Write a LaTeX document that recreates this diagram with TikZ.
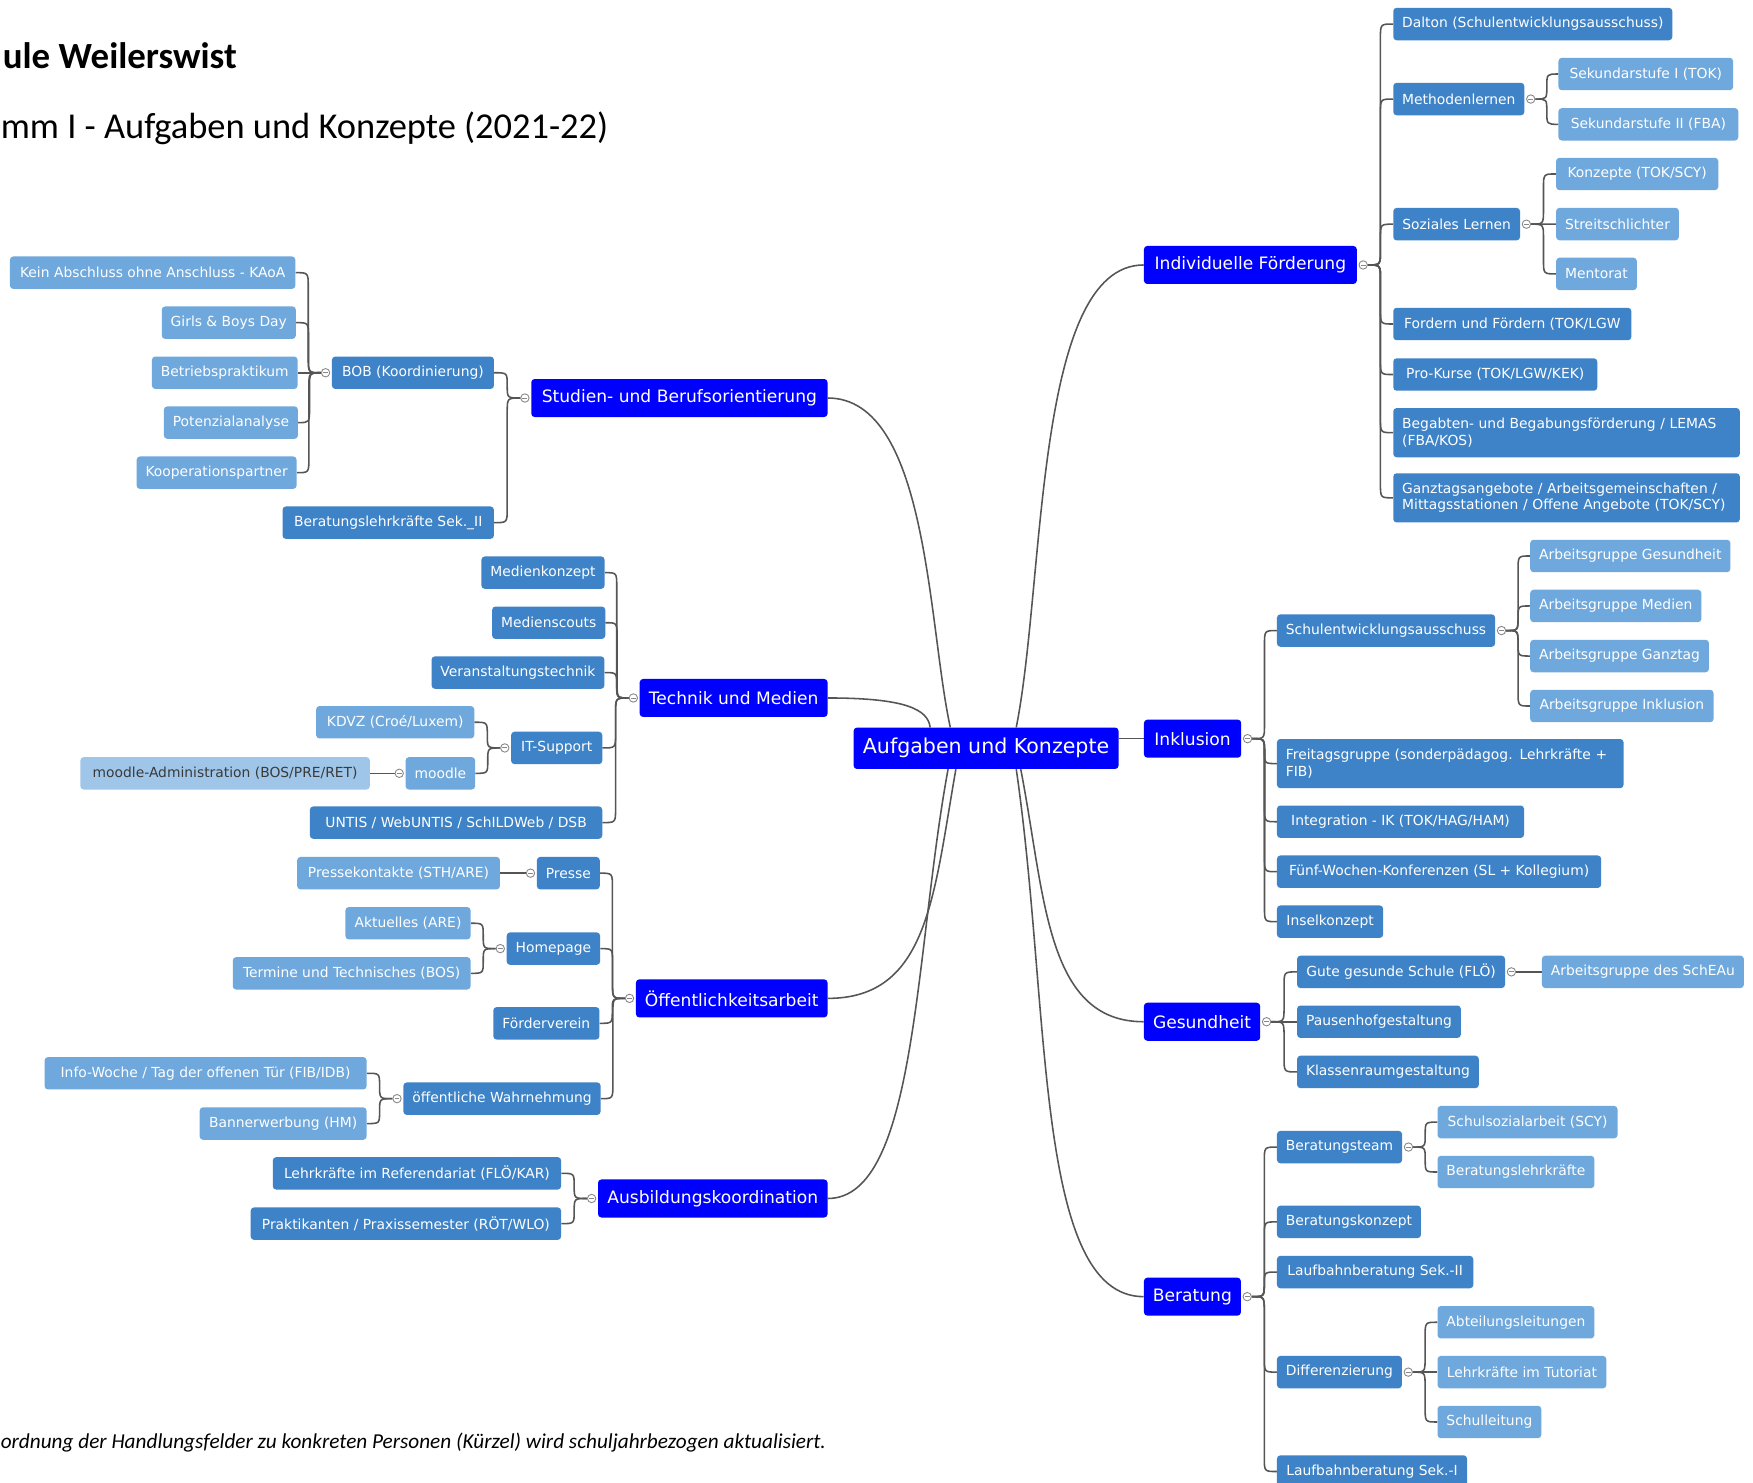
\documentclass[tikz,border=0pt]{standalone}
\usepackage{fontspec}
\setmainfont{DejaVu Sans}
\newfontfamily\titlefont{Carlito}
\usetikzlibrary{calc}

\definecolor{cone}{HTML}{0000FF}
\definecolor{ctwo}{HTML}{3E83C7}
\definecolor{cthree}{HTML}{6FA8DC}
\definecolor{cfour}{HTML}{9FC5E8}
\definecolor{cfourtext}{HTML}{3A3A3A}
\definecolor{linec}{HTML}{555555}
\definecolor{knobc}{HTML}{888888}

\pgfdeclarelayer{bg}
\pgfsetlayers{bg,main}

\tikzset{
  box/.style={rounded corners=3pt, inner xsep=8pt, inner ysep=0pt, text=white, align=left,
              font=\fontsize{12.4}{14.5}\selectfont},
  lvtwo/.style={box, fill=ctwo, minimum height=29pt},
  lvtwotall/.style={box, fill=ctwo, minimum height=44pt},
  lvthree/.style={box, fill=cthree, minimum height=29pt},
  lvfour/.style={box, fill=cfour, text=cfourtext, minimum height=29pt},
  lvone/.style={box, fill=cone, minimum height=34pt, font=\fontsize{15.3}{18}\selectfont},
  rootbox/.style={box, fill=cone, minimum height=37pt, font=\fontsize{18.4}{21}\selectfont},
  conn/.style={draw=linec, line width=1.4pt},
  knob/.style={circle, draw=knobc, fill=white, line width=0.8pt, minimum size=7.5pt, inner sep=0pt,
     path picture={\draw[knobc, line width=0.8pt]
        ([xshift=-2.2pt]path picture bounding box.center) -- ([xshift=2.2pt]path picture bounding box.center);}},
  titletext/.style={inner sep=0pt, anchor=base west}
}

% box: style, name, left, right, centre y, text
\newcommand\bx[6]{\pgfmathsetmacro\bxw{#4-#3}\node[#1, anchor=west, minimum width=\bxw pt] (#2) at (#3,#5) {#6};}
% tall box with left-aligned text block
\newcommand\bxt[6]{\pgfmathsetmacro\bxw{#4-#3-16}\node[#1, anchor=west, text width=\bxw pt] (#2) at (#3,#5) {#6};}
% connector with an S-shaped elbow between two points
\newcommand\lk[2]{\draw[conn] let \p1=(#1), \p2=(#2),
   \n3={min(13pt,abs(\y2-\y1)/2)*sign(\y2-\y1)} in
   (\p1) .. controls (0.5*\x1+0.5*\x2,\y1) .. (0.5*\x1+0.5*\x2,\y1+\n3)
   -- (0.5*\x1+0.5*\x2,\y2-\n3) .. controls (0.5*\x1+0.5*\x2,\y2) .. (\p2);}

\begin{document}
\begin{tikzpicture}[x=1pt,y=-1pt]
\useasboundingbox (0,0) rectangle (1568,1326);
\begin{pgfonlayer}{bg}
\fill[white] (0,0) rectangle (1568,1326);
\end{pgfonlayer}

% titles
\node[titletext, anchor=base east, font=\titlefont\bfseries\fontsize{33}{36}\selectfont] (title1) at (212,61) {ule Weilerswist};
\node[titletext, font=\titlefont\fontsize{32.6}{36}\selectfont] (title2) at (0.5,124) {mm I - Aufgaben und Konzepte (2021-22)};
\node[titletext, font=\titlefont\itshape\fontsize{19}{21}\selectfont] (note) at (0.5,1296) {ordnung der Handlungsfelder zu konkreten Personen (Kürzel) wird schuljahrbezogen aktualisiert.};

% root
\bx{rootbox}{root}{763.3}{1000.3}{669.3}{Aufgaben und Konzepte}

% level 1
\bx{lvone}{if}{1023}{1213.4}{237}{Individuelle Förderung}
\bx{lvone}{ink}{1023}{1110}{660.7}{Inklusion}
\bx{lvone}{ges}{1023}{1127}{913.9}{Gesundheit}
\bx{lvone}{ber}{1023}{1109}{1159.8}{Beratung}
\bx{lvone}{stu}{475}{740}{356}{Studien- und Berufsorientierung}
\bx{lvone}{tm}{572}{740}{624.3}{Technik und Medien}
\bx{lvone}{oe}{568.6}{740}{893}{Öffentlichkeitsarbeit}
\bx{lvone}{ak}{534.7}{740}{1072}{Ausbildungskoordination}

% Individuelle Foerderung
\bx{lvtwo}{dal}{1246}{1494.6}{21.5}{Dalton (Schulentwicklungsausschuss)}
\bx{lvtwo}{mel}{1246}{1361.6}{88.6}{Methodenlernen}
\bx{lvthree}{sk1}{1393.8}{1550}{66.2}{Sekundarstufe I (TOK)}
\bx{lvthree}{sk2}{1393.8}{1554.6}{111.2}{Sekundarstufe II (FBA)}
\bx{lvtwo}{sol}{1246}{1359.4}{200.5}{Soziales Lernen}
\bx{lvthree}{kon}{1391.7}{1536.7}{155.6}{Konzepte (TOK/SCY)}
\bx{lvthree}{str}{1391.7}{1500.4}{200.4}{Streitschlichter}
\bx{lvthree}{men}{1391.7}{1462.8}{245}{Mentorat}
\bx{lvtwo}{ffo}{1246}{1459}{289.8}{Fordern und Fördern (TOK/LGW}
\bx{lvtwo}{pro}{1246}{1428.5}{335}{Pro-Kurse (TOK/LGW/KEK)}
\bxt{lvtwotall}{beg}{1246}{1556}{387}{Begabten- und Begabungsförderung / LEMAS\\(FBA/KOS)}
\bxt{lvtwotall}{gta}{1246}{1556}{445.3}{Ganztagsangebote / Arbeitsgemeinschaften /\\Mittagsstationen / Offene Angebote (TOK/SCY)}

% Inklusion
\bx{lvtwo}{sea}{1142}{1336}{564}{Schulentwicklungsausschuss}
\bx{lvthree}{agg}{1368.5}{1546.5}{497.3}{Arbeitsgruppe Gesundheit}
\bx{lvthree}{agm}{1368.5}{1519.7}{542}{Arbeitsgruppe Medien}
\bx{lvthree}{agt}{1368.5}{1527.5}{586.8}{Arbeitsgruppe Ganztag}
\bx{lvthree}{agi}{1368.5}{1532.5}{631.5}{Arbeitsgruppe Inklusion}
\bxt{lvtwotall}{fre}{1142}{1452}{683}{Freitagsgruppe (sonderpädagog. Lehrkräfte +\\FIB)}
\bx{lvtwo}{int}{1142}{1363}{735}{Integration - IK (TOK/HAG/HAM)}
\bx{lvtwo}{fwk}{1142}{1432}{779.7}{Fünf-Wochen-Konferenzen (SL + Kollegium)}
\bx{lvtwo}{ins}{1142}{1237}{824.4}{Inselkonzept}

% Gesundheit
\bx{lvtwo}{ggs}{1160}{1346}{869.3}{Gute gesunde Schule (FLÖ)}
\bx{lvthree}{ags}{1379}{1559}{869.3}{Arbeitsgruppe des SchEAu}
\bx{lvtwo}{pau}{1160}{1304.6}{913.9}{Pausenhofgestaltung}
\bx{lvtwo}{kla}{1160}{1320}{958.8}{Klassenraumgestaltung}

% Beratung
\bx{lvtwo}{btm}{1142}{1252.7}{1026}{Beratungsteam}
\bx{lvthree}{ssa}{1285.6}{1446.6}{1003.7}{Schulsozialarbeit (SCY)}
\bx{lvthree}{blk}{1285.6}{1425}{1048.3}{Beratungslehrkräfte}
\bx{lvtwo}{bko}{1142}{1269.8}{1092.9}{Beratungskonzept}
\bx{lvtwo}{lbz}{1142}{1317.6}{1137.8}{Laufbahnberatung Sek.-II}
\bx{lvtwo}{dif}{1142}{1252.7}{1227.3}{Differenzierung}
\bx{lvthree}{abt}{1285.6}{1424}{1182.7}{Abteilungsleitungen}
\bx{lvthree}{tut}{1285.6}{1436.6}{1227.3}{Lehrkräfte im Tutoriat}
\bx{lvthree}{sl}{1285.6}{1377.5}{1271.9}{Schulleitung}
\bx{lvtwo}{lbe}{1142}{1312}{1316.2}{Laufbahnberatung Sek.-I}

% Studien- und Berufsorientierung
\bx{lvtwo}{bob}{296.7}{441.6}{333.4}{BOB (Koordinierung)}
\bx{lvthree}{kao}{8.7}{264}{243.9}{Kein Abschluss ohne Anschluss - KAoA}
\bx{lvthree}{gbd}{144.5}{264}{288.6}{Girls \& Boys Day}
\bx{lvthree}{bpr}{135.7}{264}{333.4}{Betriebspraktikum}
\bx{lvthree}{pot}{146.4}{264}{378}{Potenzialanalyse}
\bx{lvthree}{koo}{122}{264}{422.8}{Kooperationspartner}
\bx{lvtwo}{bls}{252.5}{441.6}{467.5}{Beratungslehrkräfte Sek.\_II}

% Technik und Medien
\bx{lvtwo}{mko}{430.4}{538.5}{512.2}{Medienkonzept}
\bx{lvtwo}{msc}{440}{538.5}{557}{Medienscouts}
\bx{lvtwo}{vat}{385.8}{538.5}{601.6}{Veranstaltungstechnik}
\bx{lvtwo}{its}{457}{538.5}{669}{IT-Support}
\bx{lvthree}{kdv}{282.6}{424}{646}{KDVZ (Croé/Luxem)}
\bx{lvthree}{moo}{362.6}{424}{691.7}{moodle}
\bx{lvfour}{mad}{71.7}{330.6}{691.7}{moodle-Administration (BOS/PRE/RET)}
\bx{lvtwo}{unt}{277}{538.5}{735.8}{UNTIS / WebUNTIS / SchILDWeb / DSB}

% Oeffentlichkeitsarbeit
\bx{lvtwo}{pre}{480}{536}{781}{Presse}
\bx{lvthree}{prk}{265.6}{447}{781}{Pressekontakte (STH/ARE)}
\bx{lvtwo}{hom}{453}{536}{848.5}{Homepage}
\bx{lvthree}{akt}{308.8}{420.7}{825.8}{Aktuelles (ARE)}
\bx{lvthree}{ter}{208}{420.7}{870.6}{Termine und Technisches (BOS)}
\bx{lvtwo}{foe}{441}{536}{915.3}{Förderverein}
\bx{lvtwo}{wah}{360.6}{536}{982.7}{öffentliche Wahrnehmung}
\bx{lvthree}{inf}{39.7}{327.7}{960}{Info-Woche / Tag der offenen Tür (FIB/IDB)}
\bx{lvthree}{ban}{178.4}{327.7}{1005}{Bannerwerbung (HM)}

% Ausbildungskoordination
\bx{lvtwo}{ref}{243.8}{501.7}{1049.5}{Lehrkräfte im Referendariat (FLÖ/KAR)}
\bx{lvtwo}{pra}{224}{501.7}{1094.5}{Praktikanten / Praxissemester (RÖT/WLO)}

% knobs
\foreach \n in {if,mel,sol,ink,sea,ges,ggs,ber,btm,dif}
  \node[knob] (k\n) at ([xshift=5.5pt]\n.east) {};
\foreach \n in {stu,bob,tm,its,moo,oe,pre,hom,wah,ak}
  \node[knob] (k\n) at ([xshift=-5.5pt]\n.west) {};

\begin{pgfonlayer}{bg}
% root connectors
\draw[conn] ([xshift=27pt]root.north) .. controls ([shift={(53,-131)}]root.north) and ([xshift=-98pt]if.west) .. (if.west);
\draw[conn] (root.east |- ink.west) -- (ink.west);
\draw[conn] ([xshift=31pt]root.south) .. controls ([shift={(53,113)}]root.south) and ([xshift=-88pt]ges.west) .. (ges.west);
\draw[conn] ([xshift=27pt]root.south) .. controls ([shift={(58,213)}]root.south) and ([xshift=-98pt]ber.west) .. (ber.west);
\draw[conn] ([xshift=-32pt]root.north) .. controls ([shift={(-52,-91)}]root.north) and ([xshift=90pt]stu.east) .. (stu.east);
\draw[conn] (tm.east) .. controls ([xshift=70pt]tm.east) and ([shift={(-52,-16)}]root.north) .. ([xshift=-50pt]root.north);
\draw[conn] ([xshift=-27pt]root.south) .. controls ([shift={(-47,113)}]root.south) and ([xshift=90pt]oe.east) .. (oe.east);
\draw[conn] ([xshift=-34pt]root.south) .. controls ([shift={(-64,163)}]root.south) and ([xshift=80pt]ak.east) .. (ak.east);

% right side
\foreach \c in {dal,mel,sol,ffo,pro,beg,gta} {\lk{kif.east}{\c.west}}
\foreach \c in {sk1,sk2} {\lk{kmel.east}{\c.west}}
\foreach \c in {kon,str,men} {\lk{ksol.east}{\c.west}}
\foreach \c in {sea,fre,int,fwk,ins} {\lk{kink.east}{\c.west}}
\foreach \c in {agg,agm,agt,agi} {\lk{ksea.east}{\c.west}}
\foreach \c in {ggs,pau,kla} {\lk{kges.east}{\c.west}}
\lk{kggs.east}{ags.west}
\foreach \c in {btm,bko,lbz,dif,lbe} {\lk{kber.east}{\c.west}}
\foreach \c in {ssa,blk} {\lk{kbtm.east}{\c.west}}
\foreach \c in {abt,tut,sl} {\lk{kdif.east}{\c.west}}

% left side
\foreach \c in {bob,bls} {\lk{kstu.west}{\c.east}}
\foreach \c in {kao,gbd,bpr,pot,koo} {\lk{kbob.west}{\c.east}}
\foreach \c in {mko,msc,vat,its,unt} {\lk{ktm.west}{\c.east}}
\foreach \c in {kdv,moo} {\lk{kits.west}{\c.east}}
\lk{kmoo.west}{mad.east}
\foreach \c in {pre,hom,foe,wah} {\lk{koe.west}{\c.east}}
\lk{kpre.west}{prk.east}
\foreach \c in {akt,ter} {\lk{khom.west}{\c.east}}
\foreach \c in {inf,ban} {\lk{kwah.west}{\c.east}}
\foreach \c in {ref,pra} {\lk{kak.west}{\c.east}}
\end{pgfonlayer}
\end{tikzpicture}
\end{document}
